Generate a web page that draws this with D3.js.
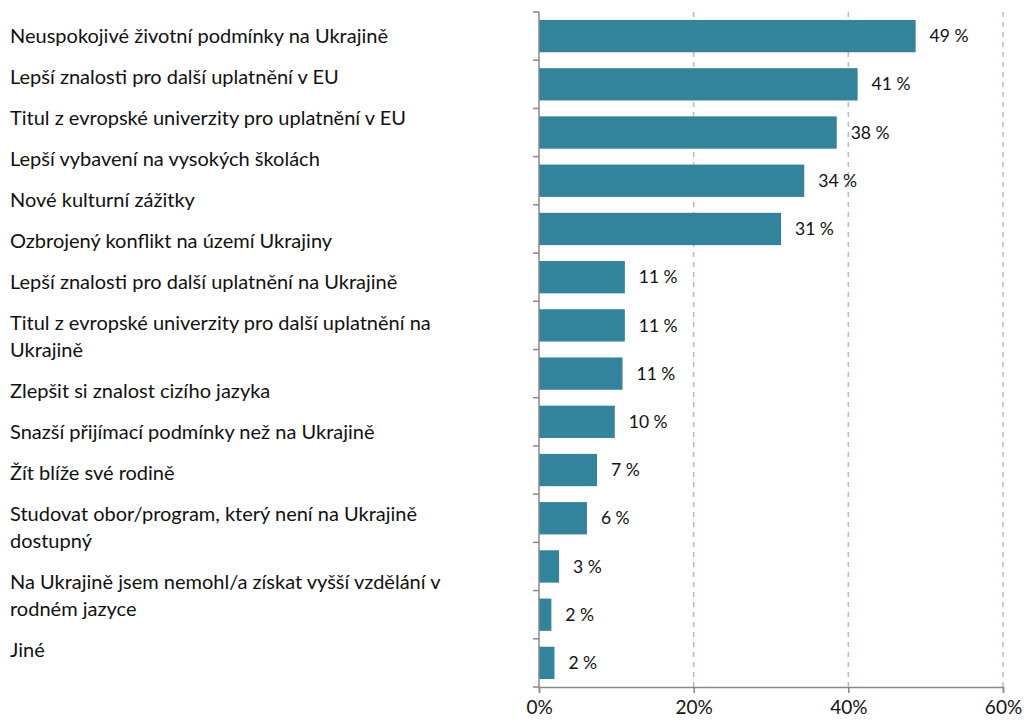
<!DOCTYPE html>
<html><head><meta charset="utf-8">
<script src="https://cdn.jsdelivr.net/npm/d3@7"></script>
<style>body{margin:0;background:#fff}svg{display:block}</style>
</head><body>
<script>
const categories = [
  "Neuspokojivé životní podmínky na Ukrajině",
  "Lepší znalosti pro další uplatnění v EU",
  "Titul z evropské univerzity pro uplatnění v EU",
  "Lepší vybavení na vysokých školách",
  "Nové kulturní zážitky",
  "Ozbrojený konflikt na území Ukrajiny",
  "Lepší znalosti pro další uplatnění na Ukrajině",
  "Titul z evropské univerzity pro další uplatnění na\nUkrajině",
  "Zlepšit si znalost cizího jazyka",
  "Snazší přijímací podmínky než na Ukrajině",
  "Žít blíže své rodině",
  "Studovat obor/program, který není na Ukrajině\ndostupný",
  "Na Ukrajině jsem nemohl/a získat vyšší vzdělání v\nrodném jazyce",
  "Jiné"
];
const values = [48.7, 41.2, 38.5, 34.3, 31.3, 11.1, 11.1, 10.8, 9.8, 7.5, 6.2, 2.6, 1.6, 2.0];
const valueLabels = ["49 %","41 %","38 %","34 %","31 %","11 %","11 %","11 %","10 %","7 %","6 %","3 %","2 %","2 %"];
const xTicks = [0, 20, 40, 60];

const W = 1024, H = 722;
const svg = d3.select("body").append("svg").attr("width", W).attr("height", H);
const font = "Lato, 'Open Sans', sans-serif";

const x = d3.scaleLinear().domain([0, 60]).range([539, 1003]);
const y = d3.scaleBand().domain(d3.range(categories.length)).range([12, 687]).paddingInner(0.33).paddingOuter(0.165);
const yEdge = d3.scaleLinear().domain([0, categories.length]).range([12, 687]);

// gridlines
svg.append("g").selectAll("line").data(xTicks.filter(d => d > 0)).join("line")
  .attr("x1", d => x(d)).attr("x2", d => x(d)).attr("y1", 12).attr("y2", 687)
  .attr("stroke", "#a9bde3").attr("stroke-width", 1.5).attr("stroke-dasharray", "5,5");

// bars
svg.append("g").selectAll("rect").data(values).join("rect")
  .attr("x", x(0)).attr("y", (d, i) => y(i))
  .attr("width", d => x(d) - x(0)).attr("height", y.bandwidth())
  .attr("fill", "#31849b");

// value labels
svg.append("g").selectAll("text").data(values).join("text")
  .attr("x", d => x(d) + 14).attr("y", (d, i) => y(i) + y.bandwidth() / 2)
  .attr("dy", "0.35em").attr("font-family", font).attr("font-size", 17.5).attr("fill", "#111")
  .text((d, i) => valueLabels[i]);

// y axis line and ticks
const ax = svg.append("g").attr("stroke", "#888").attr("stroke-width", 1.5);
ax.append("line").attr("x1", x(0)).attr("x2", x(0)).attr("y1", 12).attr("y2", 687);
ax.selectAll(".yt").data(d3.range(categories.length + 1)).join("line")
  .attr("x1", x(0) - 6).attr("x2", x(0)).attr("y1", d => yEdge(d)).attr("y2", d => yEdge(d));

// x axis
const xAxis = d3.axisBottom(x).tickValues(xTicks).tickFormat(d => d + "%").tickSize(6).tickPadding(8);
const gx = svg.append("g").attr("transform", "translate(0,687)").call(xAxis);
gx.select(".domain").attr("stroke", "#888").attr("stroke-width", 1.5);
gx.selectAll(".tick line").attr("stroke", "#888").attr("stroke-width", 1.5);
gx.selectAll(".tick text").attr("font-family", font).attr("font-size", 19).attr("fill", "#111");

// category labels (text flow)
const lineH = 27, gap = 14;
let cy = 36;
const lg = svg.append("g").attr("font-family", font).attr("font-size", 20).attr("fill", "#111");
categories.forEach(c => {
  const lines = c.split("\n");
  lines.forEach((ln, k) => {
    lg.append("text").attr("x", 10).attr("y", cy + k * lineH).attr("dy", "0.35em").text(ln);
  });
  cy += lines.length * lineH + gap;
});
</script>
</body></html>
